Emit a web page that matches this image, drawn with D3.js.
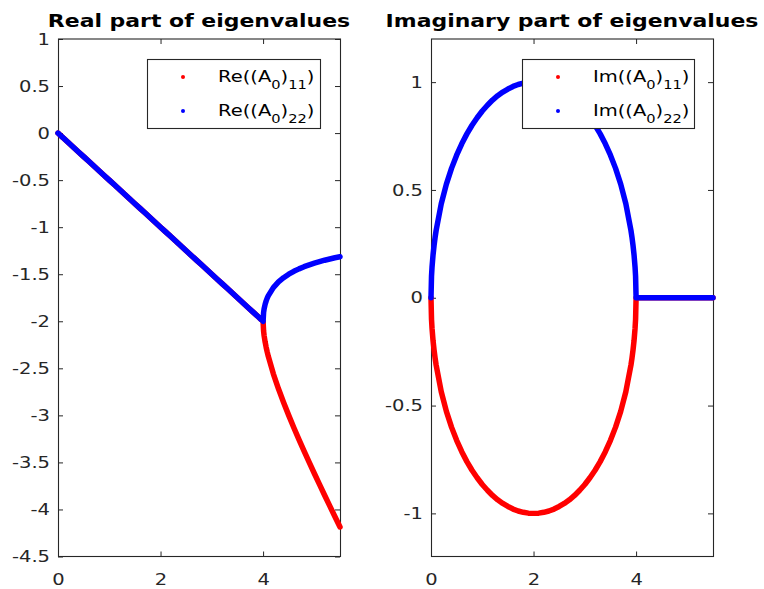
<!DOCTYPE html>
<meta charset="utf-8">
<style>
body { margin: 0; background: #fff; }
text { font-family: "DejaVu Sans", sans-serif; }
.tick text { font-size: 16px; fill: #262626; }
.tick line { stroke: #262626; }
</style>
<svg width="764" height="589"></svg>
<script src="https://cdn.jsdelivr.net/npm/d3@7"></script>
<script>

// sample positions along the x axis
var xs = [0,0.01,0.02,0.04,0.06,0.08,0.1,0.2,0.3,0.4,0.5,0.6,0.7,0.8,0.9,1.0,1.1,1.2,1.3,1.4,1.5,1.6,1.7,1.8,1.9,2.0,
  2.1,2.2,2.3,2.4,2.5,2.6,2.7,2.8,2.9,3.0,3.1,3.2,3.3,3.4,3.5,3.6,3.7,3.8,3.9,3.92,3.94,3.96,3.98,3.99,4.0,
  4.01,4.02,4.04,4.06,4.08,4.1,4.2,4.3,4.4,4.5,4.6,4.7,4.8,4.9,5.0,5.1,5.2,5.3,5.4,5.5];

// real part, shared by both eigenvalues up to x = 4
var reShared = [0,-0.005,-0.01,-0.02,-0.03,-0.04,-0.05,-0.1,-0.15,-0.2,-0.25,-0.3,-0.35,-0.4,-0.45,-0.5,-0.55,-0.6,
  -0.65,-0.7,-0.75,-0.8,-0.85,-0.9,-0.95,-1.0,-1.05,-1.1,-1.15,-1.2,-1.25,-1.3,-1.35,-1.4,-1.45,-1.5,-1.55,-1.6,
  -1.65,-1.7,-1.75,-1.8,-1.85,-1.9,-1.95,-1.96,-1.97,-1.98,-1.99,-1.995,-2.0];
// after x = 4 the two branches split
var re11After = [-2.105,-2.152,-2.221,-2.277,-2.326,-2.370,-2.558,-2.718,-2.863,-3.0,-3.131,-3.257,-3.380,-3.5,
  -3.618,-3.734,-3.849,-3.962,-4.075,-4.186];
var re22After = [-1.905,-1.868,-1.819,-1.783,-1.754,-1.730,-1.642,-1.582,-1.537,-1.5,-1.469,-1.443,-1.420,-1.4,
  -1.382,-1.366,-1.351,-1.338,-1.325,-1.314];

// imaginary part up to x = 4
var im22Before = [0,0.1,0.141,0.199,0.243,0.28,0.312,0.436,0.527,0.6,0.661,0.714,0.76,0.8,0.835,0.866,0.893,0.917,
  0.937,0.954,0.968,0.98,0.989,0.995,0.999,1.0,0.999,0.995,0.989,0.98,0.968,0.954,0.937,0.917,0.893,0.866,0.835,
  0.8,0.76,0.714,0.661,0.6,0.527,0.436,0.312,0.28,0.243,0.199,0.141,0.1,0];
var im11Before = [0,-0.1,-0.141,-0.199,-0.243,-0.28,-0.312,-0.436,-0.527,-0.6,-0.661,-0.714,-0.76,-0.8,-0.835,-0.866,
  -0.893,-0.917,-0.937,-0.954,-0.968,-0.98,-0.989,-0.995,-0.999,-1.0,-0.999,-0.995,-0.989,-0.98,-0.968,-0.954,
  -0.937,-0.917,-0.893,-0.866,-0.835,-0.8,-0.76,-0.714,-0.661,-0.6,-0.527,-0.436,-0.312,-0.28,-0.243,-0.199,
  -0.141,-0.1,0];
var imAfter = [0,0,0,0,0,0,0,0,0,0,0,0,0,0,0,0,0,0,0,0];

var re11 = reShared.concat(re11After),
    re22 = reShared.concat(re22After),
    im11 = im11Before.concat(imAfter),
    im22 = im22Before.concat(imAfter);

var xTicks = [0, 2, 4];
var yTicksRe = [-4.5,-4,-3.5,-3,-2.5,-2,-1.5,-1,-0.5,0,0.5,1];
var yTicksIm = [-1,-0.5,0,0.5,1];

var RED = "#ff0000", BLUE = "#0000ff", INK = "#262626";
var SX = 1.22; // glyphs in the picture are a bit wider than the font

var svg = d3.select("svg");
var plotTop = 39, plotBottom = 556.5;

function panel(opts) {
  var x = d3.scaleLinear().domain([0, 5.5]).range([opts.x0, opts.x1]);
  var y = d3.scaleLinear().domain(opts.yDomain).range([plotBottom, plotTop]);
  var g = svg.append("g");

  // axes, ticks pointing inward on all four sides
  var gb = g.append("g").attr("transform", "translate(0," + plotBottom + ")")
    .call(d3.axisBottom(x).tickValues(xTicks).tickSizeInner(-5).tickSizeOuter(0).tickFormat(d3.format("d")));
  gb.selectAll("text").attr("y", 0).attr("dy", 0).attr("transform", "translate(0,28) scale(" + SX + ",1)");
  g.append("g").attr("transform", "translate(0," + plotTop + ")")
    .call(d3.axisTop(x).tickValues(xTicks).tickSizeInner(-5).tickSizeOuter(0).tickFormat(""));
  var gl = g.append("g").attr("transform", "translate(" + opts.x0 + ",0)")
    .call(d3.axisLeft(y).tickValues(opts.yTicks).tickSizeInner(-5).tickSizeOuter(0).tickFormat(function(d) { return String(d); }));
  gl.selectAll("text").attr("x", 0).attr("transform", "translate(-8,0) scale(" + SX + ",1)");
  g.append("g").attr("transform", "translate(" + opts.x1 + ",0)")
    .call(d3.axisRight(y).tickValues(opts.yTicks).tickSizeInner(-5).tickSizeOuter(0).tickFormat(""));
  g.selectAll(".domain").remove();

  g.append("rect")
    .attr("x", opts.x0 + 0.5).attr("y", plotTop)
    .attr("width", opts.x1 - opts.x0).attr("height", plotBottom - plotTop)
    .attr("fill", "none").attr("stroke", INK).attr("stroke-width", 1.1);

  // series
  var line = d3.line().x(function(d) { return x(d[0]); }).y(function(d) { return y(d[1]); });
  opts.series.forEach(function(s) {
    g.append("path")
      .datum(d3.zip(xs, s.values))
      .attr("d", line)
      .attr("fill", "none")
      .attr("stroke", s.color)
      .attr("stroke-width", 5.5)
      .attr("stroke-linejoin", "round")
      .attr("stroke-linecap", "round");
  });

  // title
  g.append("text")
    .attr("transform", "translate(" + ((opts.x0 + opts.x1) / 2) + ",27) scale(" + SX + ",1)")
    .attr("text-anchor", "middle")
    .attr("font-size", 18).attr("font-weight", "bold").attr("fill", "#000")
    .text(opts.title);

  // legend
  var lg = g.append("g");
  lg.append("rect")
    .attr("x", opts.lx + 0.5).attr("y", plotTop + 20.5)
    .attr("width", opts.lw).attr("height", 69)
    .attr("fill", "#fff").attr("stroke", INK).attr("stroke-width", 1.1);
  opts.series.forEach(function(s, i) {
    var cy = plotTop + 38 + i * 34;
    lg.append("circle").attr("cx", opts.lx + 36).attr("cy", cy).attr("r", 2).attr("fill", s.color);
    var t = lg.append("text")
      .attr("transform", "translate(" + (opts.lx + 71) + "," + (cy + 5) + ") scale(" + SX + ",1)")
      .attr("font-size", 16).attr("fill", "#000");
    t.append("tspan").text(opts.prefix + "((A");
    t.append("tspan").attr("font-size", 12).attr("dy", 7).text("0");
    t.append("tspan").attr("dy", -7).text(")");
    t.append("tspan").attr("font-size", 12).attr("dy", 7).text(s.sub);
    t.append("tspan").attr("dy", -7).text(")");
  });
}

panel({
  x0: 58, x1: 340, yDomain: [-4.5, 1], yTicks: yTicksRe,
  title: "Real part of eigenvalues", prefix: "Re", lx: 147, lw: 173,
  series: [{ values: re11, color: RED, sub: "11" }, { values: re22, color: BLUE, sub: "22" }]
});

panel({
  x0: 431, x1: 713, yDomain: [-1.2, 1.2], yTicks: yTicksIm,
  title: "Imaginary part of eigenvalues", prefix: "Im", lx: 522, lw: 172,
  series: [{ values: im11, color: RED, sub: "11" }, { values: im22, color: BLUE, sub: "22" }]
});

</script>
